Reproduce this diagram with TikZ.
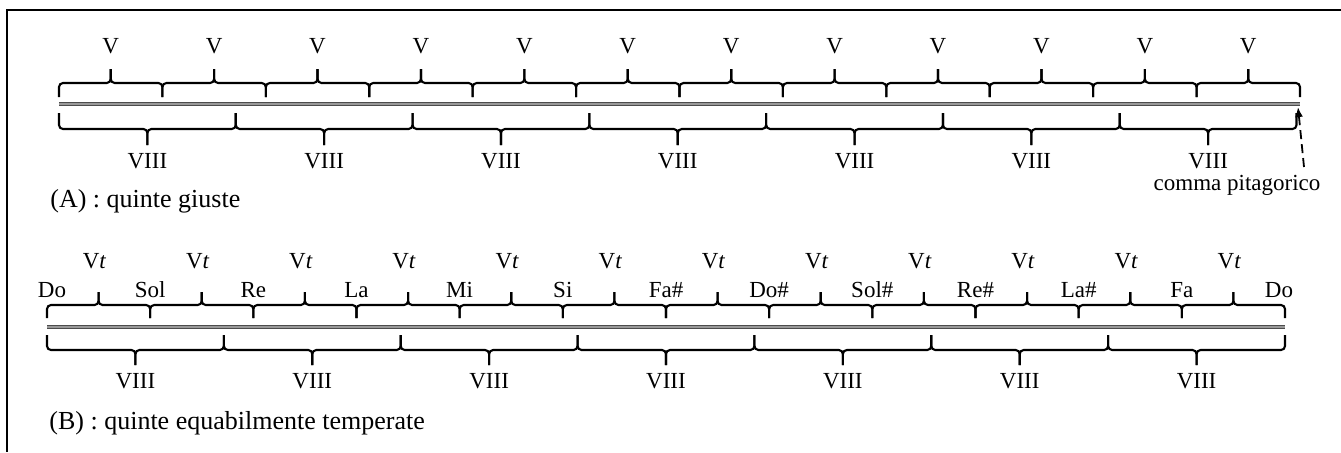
\documentclass[tikz,border=0pt]{standalone}
\usepackage{fontspec}
\setmainfont{Liberation Serif}
\usetikzlibrary{arrows.meta}
\begin{document}
\begin{tikzpicture}[x=0.5pt,y=-0.5pt,
  br/.style={line width=1.05pt, rounded corners=2pt},
  lab/.style={font=\fontsize{11.5}{13}\selectfont, inner sep=0pt, anchor=base},
  captext/.style={font=\fontsize{13}{15}\selectfont, inner sep=0pt, anchor=base west},
  dbl/.style={draw=black!70, line width=0.55pt, double=black!40, double distance=0.9pt},
  frameline/.style={line width=1pt},
  arr/.style={line width=0.9pt, dash pattern=on 4.5pt off 2.5pt, -{Latex[length=5pt,width=4pt]}}]
\useasboundingbox (0,0) rectangle (1341,452);
\draw[frameline] (1341,10) -- (7,10) -- (7,452);
% ---------- (A) ----------
\coordinate (As) at (59,104);
\coordinate (Ae) at (1300,104);
\draw[dbl] (As) -- (Ae);
\foreach \i in {0,...,11}{
  \pgfmathsetmacro\xa{59+\i*1241/12}
  \pgfmathsetmacro\xb{59+(\i+1)*1241/12}
  \pgfmathsetmacro\xm{(\xa+\xb)/2}
  \draw[br] (\xa,97) |- (\xm,83) -- (\xm,69);
  \draw[br] (\xb,97) |- (\xm,83) -- (\xm,69);
  \node[lab] (VA\i) at (\xm,53) {V};
}
\foreach \j in {0,...,6}{
  \pgfmathsetmacro\xa{59+\j*176.79}
  \pgfmathsetmacro\xb{59+(\j+1)*176.79}
  \pgfmathsetmacro\xm{(\xa+\xb)/2}
  \draw[br] (\xa,113) |- (\xm,129) -- (\xm,145);
  \draw[br] (\xb,113) |- (\xm,129) -- (\xm,145);
  \node[lab] (OA\j) at (\xm,168) {VIII};
}
\node[lab] (comma) at (1237,190) {comma pitagorico};
\coordinate (cs) at (1304,167);
\coordinate (ce) at (1298,107);
\draw[arr] (cs) -- (ce);
\node[captext] (capA) at (50,207) {(A) : quinte giuste};
% ---------- (B) ----------
\coordinate (Bs) at (47,327);
\coordinate (Be) at (1285,327);
\draw[dbl] (Bs) -- (Be);
\foreach \i in {0,...,11}{
  \pgfmathsetmacro\xa{47+\i*1238/12}
  \pgfmathsetmacro\xb{47+(\i+1)*1238/12}
  \pgfmathsetmacro\xm{(\xa+\xb)/2}
  \draw[br] (\xa,318) |- (\xm,305) -- (\xm,292);
  \draw[br] (\xb,318) |- (\xm,305) -- (\xm,292);
  \node[lab] (VB\i) at ({\xm-4},268) {V\textit{t}};
}
\foreach \n [count=\k from 0] in {Do,Sol,Re,La,Mi,Si,Fa\#,Do\#,Sol\#,Re\#,La\#,Fa,Do}{
  \pgfmathsetmacro\xn{47+\k*1238/12+(\k==0)*5-(\k==12)*6}
  \node[lab] (N\k) at (\xn,297) {\n};
}
\foreach \j in {0,...,6}{
  \pgfmathsetmacro\xa{47+\j*1238/7}
  \pgfmathsetmacro\xb{47+(\j+1)*1238/7}
  \pgfmathsetmacro\xm{(\xa+\xb)/2}
  \draw[br] (\xa,335) |- (\xm,350) -- (\xm,365);
  \draw[br] (\xb,335) |- (\xm,350) -- (\xm,365);
  \node[lab] (OB\j) at (\xm,388) {VIII};
}
\node[captext] (capB) at (49,429) {(B) : quinte equabilmente temperate};
\end{tikzpicture}
\end{document}
